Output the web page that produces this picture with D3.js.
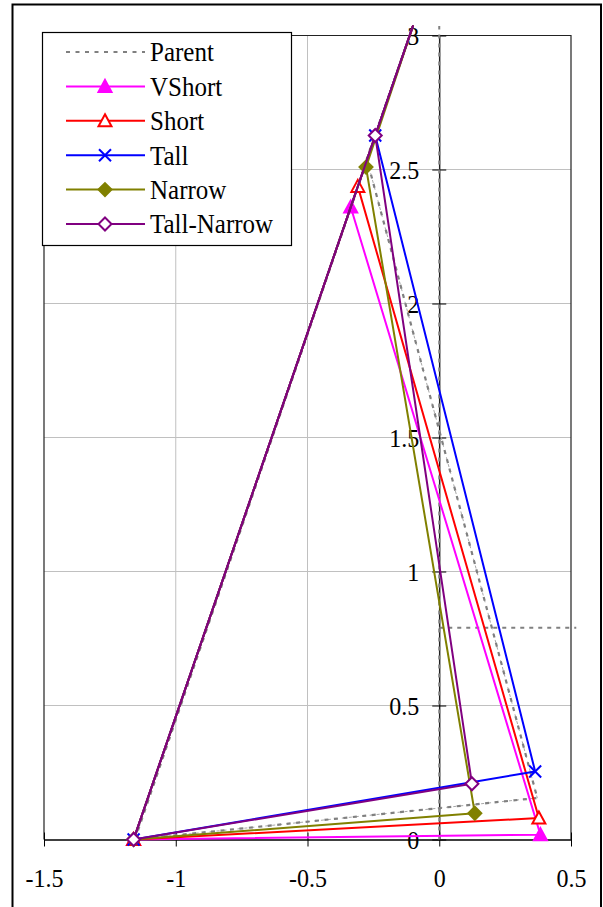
<!DOCTYPE html>
<html>
<head>
<meta charset="utf-8">
<script src="https://cdn.jsdelivr.net/npm/d3@7"></script>
<style>
  body { margin: 0; background: #fff; }
  svg { display: block; }
  svg text { font-family: "Liberation Serif", "DejaVu Serif", serif; fill: #000; }
</style>
</head>
<body>
<svg id="chart" width="603" height="907"></svg>
<script>
// axis ticks
var xTicks = [-1.5, -1, -0.5, 0, 0.5];
var yTicks = [0, 0.5, 1, 1.5, 2, 2.5, 3];

// series (closed outlines)
var seriesNames = ["Parent", "VShort", "Short", "Tall", "Narrow", "Tall-Narrow"];
var parentX     = [-1.155, -0.10, -0.275, 0.372, -1.155];
var parentY     = [0, 3.035, 2.54, 0.155, 0];
var vshortX     = [-1.16, -0.10, -0.336, 0.384, -1.16];
var vshortY     = [0, 3.035, 2.36, 0.018, 0];
var shortX      = [-1.16, -0.10, -0.309, 0.378, -1.16];
var shortY      = [0, 3.035, 2.437, 0.08, 0];
var tallX       = [-1.16, -0.10, -0.243, 0.364, -1.16];
var tallY       = [0, 3.035, 2.627, 0.254, 0];
var narrowX     = [-1.16, -0.10, -0.278, 0.135, -1.16];
var narrowY     = [0, 3.035, 2.509, 0.098, 0];
var tallNarrowX = [-1.16, -0.10, -0.243, 0.124, -1.16];
var tallNarrowY = [0, 3.035, 2.627, 0.208, 0];

// reference lines (not in legend)
var refVX = [0, 0],    refVY = [0, 3.035];
var refHX = [0, 0.52], refHY = [0.79, 0.79];

var svg = d3.select("#chart");

var x = d3.scaleLinear().domain([-1.5, 0.5]).range([44, 571]);
var y = d3.scaleLinear().domain([0, 3]).range([839.5, 35.5]);

function pts(xs, ys) { return xs.map(function(d, i) { return [d, ys[i]]; }); }
var line = d3.line().x(function(d) { return x(d[0]); }).y(function(d) { return y(d[1]); });
var fmt = function(d) { return String(d); };

// outer chart border
svg.append("rect")
    .attr("x", 12.5).attr("y", 4.5)
    .attr("width", 588.5).attr("height", 930)
    .attr("fill", "#fff").attr("stroke", "#000").attr("stroke-width", 2);

// gridlines
var grid = svg.append("g");
grid.selectAll(".gx")
  .data(xTicks.slice(1, -1))
  .enter().append("line")
    .attr("x1", x).attr("x2", x)
    .attr("y1", y(0)).attr("y2", y(3))
    .attr("stroke", "#c0c0c0").attr("stroke-width", 1);
grid.selectAll(".gy")
  .data(yTicks.slice(1))
  .enter().append("line")
    .attr("x1", x(-1.5)).attr("x2", x(0.5))
    .attr("y1", y).attr("y2", y)
    .attr("stroke", "#c0c0c0").attr("stroke-width", 1);

// plot frame
svg.append("path")
    .attr("d", "M" + x(-1.5) + "," + y(0) + "V" + y(3) + "H" + x(0.5) + "V" + y(0))
    .attr("fill", "none").attr("stroke", "#222").attr("stroke-width", 1.2);

// x axis at y = 0
var xAxis = svg.append("g")
    .attr("transform", "translate(0," + y(0) + ")")
    .call(d3.axisBottom(x).tickValues(xTicks).tickSize(0).tickFormat(fmt));
xAxis.attr("font-size", 24);
xAxis.select(".domain").attr("stroke", "#000").attr("stroke-width", 1.5);
xAxis.selectAll(".tick line").attr("y1", -7).attr("y2", 7).attr("stroke", "#000");
xAxis.selectAll(".tick text")
    .attr("y", 0).attr("dy", null).attr("fill", "#000")
    .attr("transform", "translate(0,47) scale(1,1.06)");

// y axis at x = 0
var yAxis = svg.append("g")
    .attr("transform", "translate(" + x(0) + ",0)")
    .call(d3.axisLeft(y).tickValues(yTicks).tickSize(0).tickFormat(fmt));
yAxis.attr("font-size", 24);
yAxis.select(".domain").attr("stroke", "#000").attr("stroke-width", 1.2);
yAxis.selectAll(".tick line").attr("x1", -7).attr("x2", 7).attr("stroke", "#000");
yAxis.selectAll(".tick text")
    .attr("x", 0).attr("dy", "0.34em").attr("fill", "#000")
    .attr("transform", "translate(-20,0) scale(1,1.06)");

// reference lines
[pts(refVX, refVY), pts(refHX, refHY)].forEach(function(p) {
  svg.append("path").attr("d", line(p))
      .attr("fill", "none").attr("stroke", "#808080")
      .attr("stroke-width", 2).attr("stroke-dasharray", "4,5");
});

// marker shapes
function marker(type) {
  if (type === "triangle") return "M0,-6.5L6.5,5.5L-6.5,5.5Z";
  if (type === "x") return "M-6,-6L6,6M-6,6L6,-6";
  if (type === "diamond") return "M0,-6.5L6.5,0L0,6.5L-6.5,0Z";
  return null;
}

var series = [
  {name: seriesNames[0], p: pts(parentX, parentY), color: "#808080", marker: null},
  {name: seriesNames[1], p: pts(vshortX, vshortY), color: "#ff00ff", marker: "triangle", fill: "#ff00ff"},
  {name: seriesNames[2], p: pts(shortX, shortY), color: "#ff0000", marker: "triangle", fill: "#fff"},
  {name: seriesNames[3], p: pts(tallX, tallY), color: "#0000ff", marker: "x", fill: "none"},
  {name: seriesNames[4], p: pts(narrowX, narrowY), color: "#808000", marker: "diamond", fill: "#808000"},
  {name: seriesNames[5], p: pts(tallNarrowX, tallNarrowY), color: "#800080", marker: "diamond", fill: "#fff"}
];

function drawParentLine(g, d) {
  g.append("path").attr("d", d)
      .attr("fill", "none").attr("stroke", "#a8a8a8")
      .attr("stroke-width", 1).attr("stroke-dasharray", "3,4");
  g.append("path").attr("d", d)
      .attr("fill", "none").attr("stroke", "#808080")
      .attr("stroke-width", 2.2).attr("stroke-dasharray", "4,5.5");
}

var plot = svg.append("g");
series.forEach(function(s) {
  var g = plot.append("g");
  if (!s.marker) { drawParentLine(g, line(s.p)); return; }
  g.append("path").attr("d", line(s.p))
      .attr("fill", "none").attr("stroke", s.color).attr("stroke-width", 2)
      .attr("stroke-linejoin", "round");
  // markers only inside the value axis range
  g.selectAll("path.m")
    .data(s.p.slice(0, -1).filter(function(d) { return d[1] <= 3; }))
    .enter().append("path")
      .attr("class", "m")
      .attr("transform", function(d) { return "translate(" + x(d[0]) + "," + y(d[1]) + ")"; })
      .attr("d", marker(s.marker))
      .attr("fill", s.fill).attr("stroke", s.color).attr("stroke-width", 2);
});

// legend
var legend = svg.append("g").attr("transform", "translate(42,32)");
legend.append("rect")
    .attr("x", 0.5).attr("y", 0.5).attr("width", 249).attr("height", 213)
    .attr("fill", "#fff").attr("stroke", "#000").attr("stroke-width", 1.2);
var item = legend.selectAll(".item")
  .data(series)
  .enter().append("g")
    .attr("transform", function(d, i) { return "translate(0," + (20 + i * 34.4) + ")"; });
item.each(function(s) {
  var g = d3.select(this);
  var d = "M24,0H103";
  if (!s.marker) {
    g.append("path").attr("d", d)
        .attr("fill", "none").attr("stroke", "#808080")
        .attr("stroke-width", 2.2).attr("stroke-dasharray", "4,5.5");
  } else {
    g.append("path").attr("d", d).attr("stroke", s.color).attr("stroke-width", 2);
    g.append("path").attr("transform", "translate(63,0)")
        .attr("d", marker(s.marker))
        .attr("fill", s.fill).attr("stroke", s.color).attr("stroke-width", 2);
  }
  g.append("text")
      .attr("transform", "translate(108,0) scale(1,1.07)")
      .attr("dy", "0.35em")
      .style("font-size", "25px")
      .text(s.name);
});
</script>
</body>
</html>
